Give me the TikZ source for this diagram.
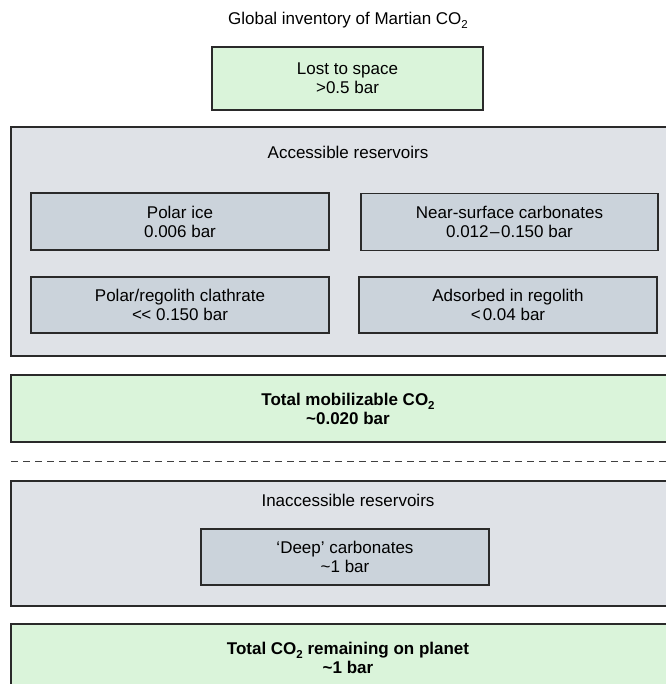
\documentclass[tikz,border=0pt]{standalone}
\usepackage{fontspec}
\setmainfont[Ligatures=NoCommon]{Liberation Sans}
\newcommand\subtwo{\raisebox{-0.45ex}{\fontsize{11.5}{11.5}\selectfont 2}}
\definecolor{outergray}{HTML}{DFE2E7}
\definecolor{innergray}{HTML}{CBD3DB}
\definecolor{palegreen}{HTML}{DAF4DA}
\definecolor{edge}{HTML}{2A2A2A}
\begin{document}
\begin{tikzpicture}[x=1pt,y=-1pt,
  every node/.style={font=\fontsize{17}{19}\selectfont, align=center, inner sep=0pt},
  basebox/.style={draw=edge, line width=1.1pt, rectangle},
  greenbox/.style={basebox, fill=palegreen},
  outerbox/.style={basebox, fill=outergray},
  innerbox/.style={basebox, fill=innergray},
  divider/.style={draw=black!75, line width=1pt, dash pattern=on 7pt off 5pt}]
\useasboundingbox (0,0) rectangle (665,684);

\node (title) at (348,20) {Global inventory of Martian CO\subtwo};
\node[greenbox, minimum width=271pt, minimum height=63pt] (lost) at (347.5,78.5)
  {Lost to space\\>0.5 bar};

\node[outerbox, minimum width=674pt, minimum height=229pt] (acc) at (348,241.5) {};
\node (acclabel) at (348,152) {Accessible reservoirs};
\node[innerbox, minimum width=298pt, minimum height=57pt] (polar) at (180,221.5)
  {Polar ice\\0.006 bar};
\node[innerbox, minimum width=297pt, minimum height=57pt] (near) at (509.5,222)
  {Near-surface carbonates\\0.012\kern1.5pt–\kern1.5pt0.150 bar};
\node[innerbox, minimum width=298pt, minimum height=56pt] (clath) at (180,305)
  {Polar/regolith clathrate\\<\kern-0.5pt<{} 0.150 bar};
\node[innerbox, minimum width=298pt, minimum height=56pt] (ads) at (508,305)
  {Adsorbed in regolith\\<\kern2pt0.04 bar};

\node[greenbox, minimum width=674pt, minimum height=67pt, font=\fontsize{17}{19}\selectfont\bfseries] (mob) at (348,408.5)
  {Total mobilizable CO\subtwo\\\textasciitilde0.020 bar};

\coordinate (dl) at (11,461);
\coordinate (dr) at (670,461);
\draw[divider] (dl) -- (dr);

\node[outerbox, minimum width=674pt, minimum height=125pt] (inacc) at (348,543.5) {};
\node (inacclabel) at (348,500) {Inaccessible reservoirs};
\node[innerbox, minimum width=288pt, minimum height=56pt] (deep) at (345,557)
  {‘Deep’ carbonates\\\textasciitilde1 bar};

\node[greenbox, minimum width=674pt, minimum height=68pt, font=\fontsize{17}{19}\selectfont\bfseries] (total) at (348,658)
  {Total CO\subtwo\ remaining on planet\\\textasciitilde1 bar};
\end{tikzpicture}
\end{document}
